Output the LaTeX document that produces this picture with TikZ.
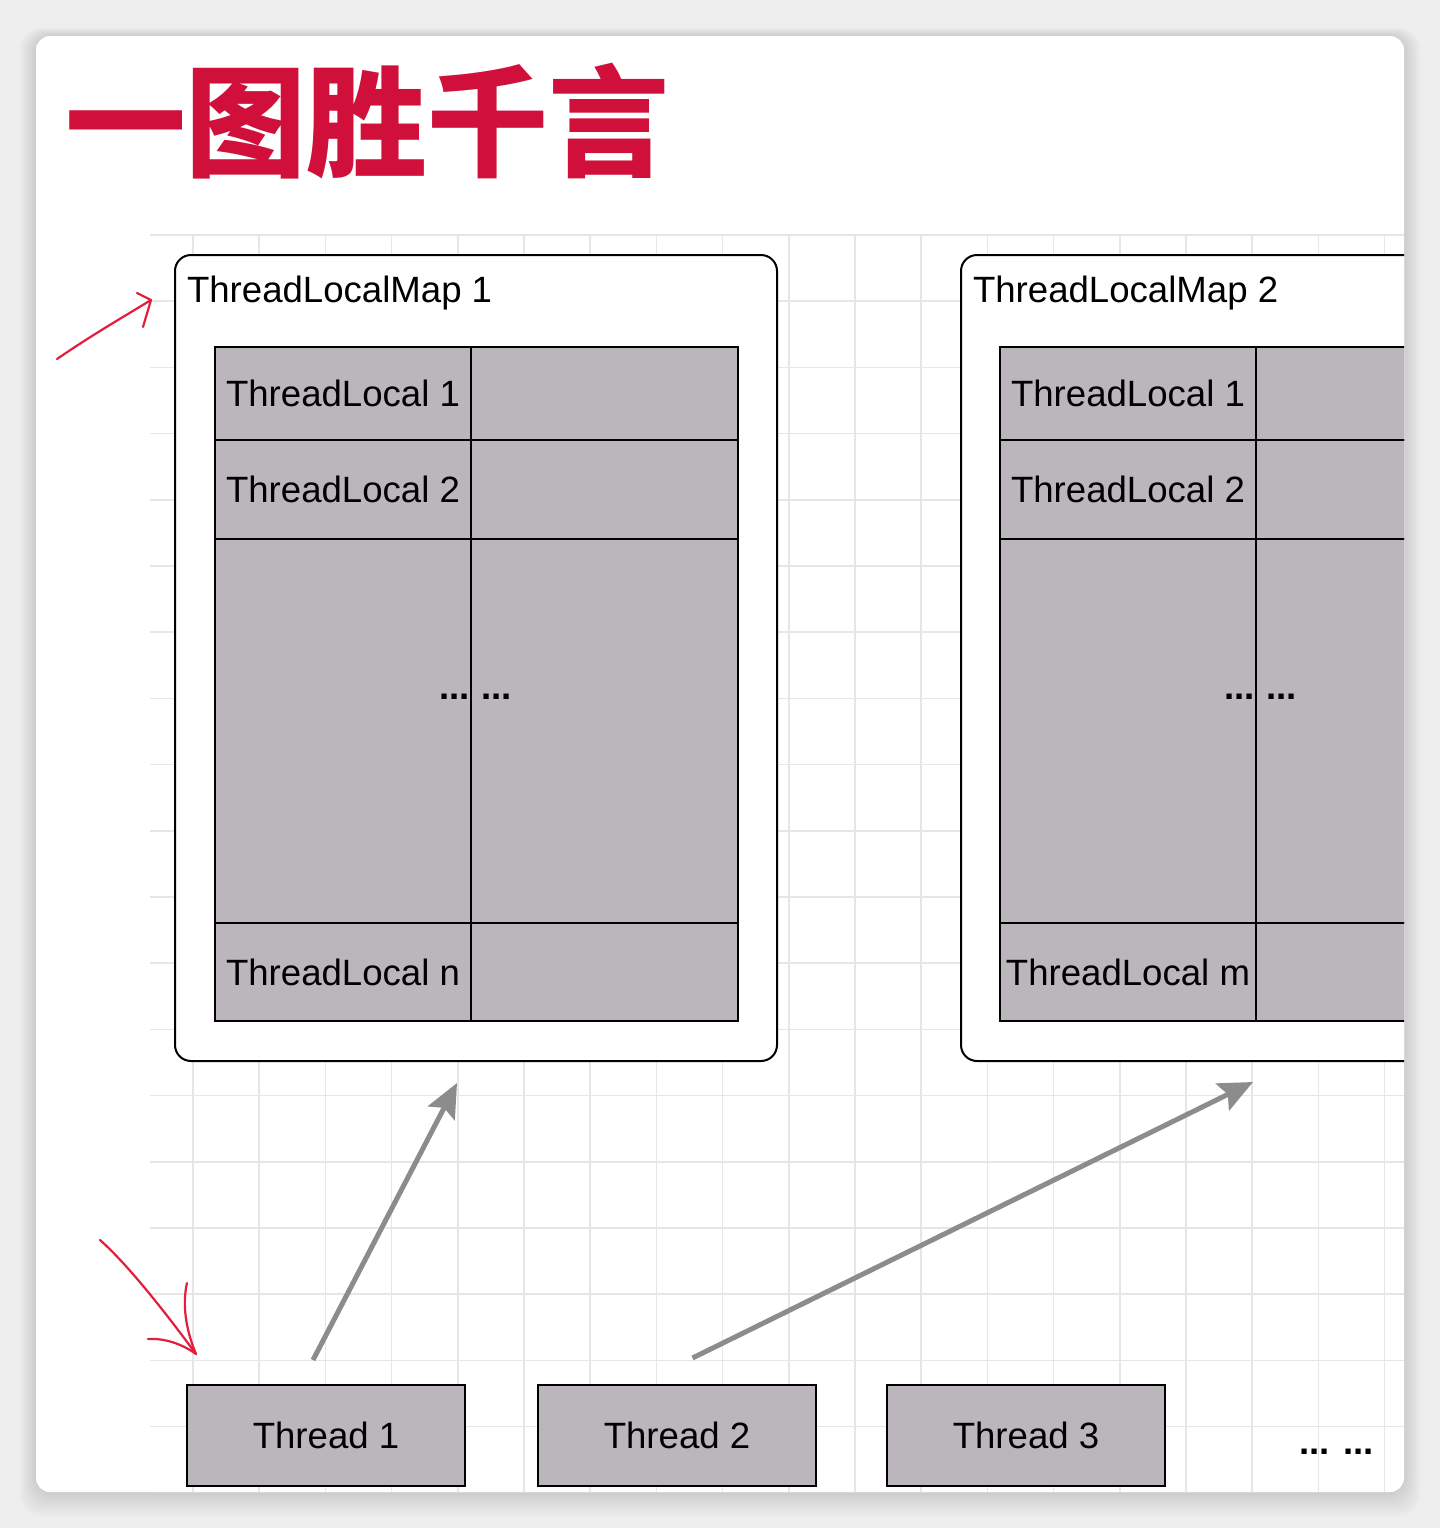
\documentclass[tikz,border=0pt]{standalone}
\usepackage{fontspec}
\setmainfont{Liberation Sans}
\newfontfamily\cjk{Noto Sans CJK SC}
\usetikzlibrary{arrows.meta,positioning}
\definecolor{cellgray}{RGB}{186,182,187}
\definecolor{titlered}{RGB}{208,16,58}
\definecolor{inkred}{RGB}{226,30,60}
\definecolor{arrowgray}{RGB}{140,140,140}
\definecolor{gridgray}{RGB}{230,230,230}
\definecolor{pagegray}{RGB}{238,238,238}
\newcommand{\lblfont}{\fontsize{18.3}{22}\selectfont}

\begin{document}
\begin{tikzpicture}[
    x=0.5pt, y=-0.5pt,
    every node/.style={inner sep=0pt, outer sep=0pt},
    mapbox/.style={rectangle, draw=black, fill=white, line width=1pt, rounded corners=8pt, minimum width=301pt, minimum height=403pt},
    maplabel/.style={anchor=base west, font=\lblfont},
    cell/.style={rectangle, draw=black, fill=cellgray, line width=1.1pt, font=\lblfont},
    keycell/.style={cell, minimum width=128pt},
    valcell/.style={cell, minimum width=133.5pt},
    threadbox/.style={rectangle, draw=black, fill=cellgray, line width=1.4pt, minimum width=139pt, minimum height=50.5pt, font=\lblfont},
    dots/.style={font=\lblfont\bfseries},
    gridline/.style={draw=gridgray, line width=0.8pt},
    refarrow/.style={-{Stealth[length=17pt, width=15pt, inset=3pt]}, line width=2.5pt, draw=arrowgray},
    scribble/.style={draw=inkred, line width=1.1pt, line cap=round, line join=round}
]
    % page and card
    \fill[pagegray] (0,0) rectangle (1440,1528);
    \useasboundingbox (0,0) rectangle (1440,1528);
    \foreach \s in {1,...,8}
        \fill[black, opacity=0.014, rounded corners=10pt] (36-2*\s,36-\s) rectangle (1404+2*\s,1492+3*\s);
    \fill[white, rounded corners=7pt] (36,36) rectangle (1404,1492);

    \begin{scope}
    \clip[rounded corners=7pt] (36,36) rectangle (1404,1492);

    % grid
    \foreach \gx in {0,...,18}
        \draw[gridline] ({193+66.2*\gx},235) -- ({193+66.2*\gx},1492);
    \foreach \gy in {0,...,19}
        \draw[gridline] (150,{235+66.2*\gy}) -- (1404,{235+66.2*\gy});

    % title
    \node[anchor=base west, font=\cjk\bfseries\fontsize{60.5}{66}\selectfont, text=titlered] (title) at (65,167) {一图胜千言};

    % maps
    \node[mapbox, anchor=north west] (map1) at (175,255) {};
    \node[mapbox, right=92pt of map1] (map2) {};
    \node[maplabel] (map1title) at ([xshift=6pt,yshift=-23.5pt]map1.north west) {ThreadLocalMap 1};
    \node[maplabel] (map2title) at ([xshift=6pt,yshift=-23.5pt]map2.north west) {ThreadLocalMap 2};

    % table of map 1
    \node[keycell, minimum height=46.5pt, anchor=north west] (m1k1) at ([xshift=20pt,yshift=-46pt]map1.north west) {ThreadLocal 1};
    \node[valcell, minimum height=46.5pt, right=0pt of m1k1] (m1v1) {};
    \node[keycell, minimum height=49.5pt, below=0pt of m1k1] (m1k2) {ThreadLocal 2};
    \node[valcell, minimum height=49.5pt, right=0pt of m1k2] (m1v2) {};
    \node[keycell, minimum height=192pt, below=0pt of m1k2] (m1k3) {};
    \node[valcell, minimum height=192pt, right=0pt of m1k3] (m1v3) {};
    \node[keycell, minimum height=49pt, below=0pt of m1k3] (m1kn) {ThreadLocal n};
    \node[valcell, minimum height=49pt, right=0pt of m1kn] (m1vn) {};
    \node[dots, anchor=east] (m1dk) at ([xshift=-0.5pt,yshift=17pt]m1k3.east) {...};
    \node[dots, anchor=west] (m1dv) at ([xshift=5pt,yshift=17pt]m1v3.west) {...};

    % table of map 2
    \node[keycell, minimum height=46.5pt, anchor=north west] (m2k1) at ([xshift=19.5pt,yshift=-46pt]map2.north west) {ThreadLocal 1};
    \node[valcell, minimum height=46.5pt, right=0pt of m2k1] (m2v1) {};
    \node[keycell, minimum height=49.5pt, below=0pt of m2k1] (m2k2) {ThreadLocal 2};
    \node[valcell, minimum height=49.5pt, right=0pt of m2k2] (m2v2) {};
    \node[keycell, minimum height=192pt, below=0pt of m2k2] (m2k3) {};
    \node[valcell, minimum height=192pt, right=0pt of m2k3] (m2v3) {};
    \node[keycell, minimum height=49pt, below=0pt of m2k3] (m2km) {ThreadLocal m};
    \node[valcell, minimum height=49pt, right=0pt of m2km] (m2vm) {};
    \node[dots, anchor=east] (m2dk) at ([xshift=-0.5pt,yshift=17pt]m2k3.east) {...};
    \node[dots, anchor=west] (m2dv) at ([xshift=5pt,yshift=17pt]m2v3.west) {...};

    % threads
    \node[threadbox, anchor=north west] (t1) at (187,1385) {Thread 1};
    \node[threadbox, right=36.5pt of t1] (t2) {Thread 2};
    \node[threadbox, right=35.5pt of t2] (t3) {Thread 3};
    \node[dots, right=67pt of t3, yshift=-8pt] (moredots) {... ...};

    \draw[refarrow] ([xshift=-6.5pt,yshift=12.5pt]t1.north) -- ([xshift=-9.5pt,yshift=-11pt]map1.south);
    \draw[refarrow] ([xshift=7.75pt,yshift=13.5pt]t2.north) -- ([xshift=-4.5pt,yshift=-10.5pt]map2.south);

    % hand drawn marks
    \draw[scribble] (57,359) .. controls (95,333) and (125,316) .. (151,300);
    \draw[scribble] (137,293) -- (151,300) -- (143,327);
    \draw[scribble] (100,1240) .. controls (125,1262) and (160,1305) .. (196,1354);
    \draw[scribble] (187,1283) .. controls (182,1305) and (186,1330) .. (196,1354);
    \draw[scribble] (148,1339) .. controls (165,1338) and (182,1344) .. (196,1354);
    \end{scope}
\end{tikzpicture}
\end{document}
